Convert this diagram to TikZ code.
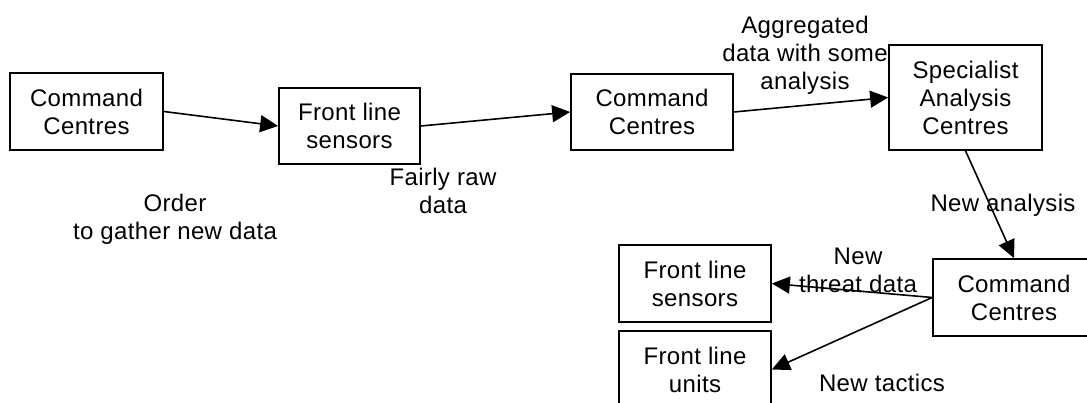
\documentclass[tikz,border=0pt]{standalone}
\usepackage{fontspec}
\setmainfont{Liberation Sans}[LetterSpace=1.5]
\usetikzlibrary{arrows.meta}
\begin{document}
\begin{tikzpicture}[x=1pt,y=-1pt,
  every node/.style={font=\fontsize{24}{28}\selectfont},
  box/.style={draw,line width=1.7pt,rectangle,inner sep=0pt,align=center},
  lbl/.style={inner sep=0pt,align=center},
  conn/.style={line width=1.6pt,-{Triangle[length=18pt,width=17pt]}}]
\useasboundingbox (0,0) rectangle (1087,403);
\node[box,minimum width=153pt,minimum height=77pt] (b1) at (86.5,111.5) {Command\\Centres};
\node[box,minimum width=141pt,minimum height=76pt] (b2) at (349.5,126) {Front line\\sensors};
\node[box,minimum width=162pt,minimum height=76pt] (b3) at (652,112) {Command\\Centres};
\node[box,minimum width=153pt,minimum height=105pt] (b4) at (965.5,97.5) {Specialist\\Analysis\\Centres};
\node[box,minimum width=162pt,minimum height=77pt] (b5) at (1014,297.5) {Command\\Centres};
\node[box,minimum width=152pt,minimum height=77pt] (b6) at (695,283.5) {Front line\\sensors};
\node[box,minimum width=152pt,minimum height=77pt] (b7) at (695,369.5) {Front line\\units};
\draw[conn] (b1.east) -- (b2.west);
\draw[conn] (b2.east) -- (b3.west);
\draw[conn] (b3.east) -- (b4.west);
\draw[conn] (b4.south) -- (b5.north);
\draw[conn] (b5.west) -- (b6.east);
\draw[conn] (b5.west) -- (b7.east);
\node[lbl] (l1) at (175,219) {Order\\to gather new data};
\node[lbl] (l2) at (443,191) {Fairly raw\\data};
\node[lbl] (l3) at (805,55) {Aggregated\\data with some\\analysis};
\node[lbl] (l4) at (1003,205) {New analysis};
\node[lbl] (l5) at (858,270) {New\\threat data};
\node[lbl] (l6) at (882,383) {New tactics};
\end{tikzpicture}
\end{document}
